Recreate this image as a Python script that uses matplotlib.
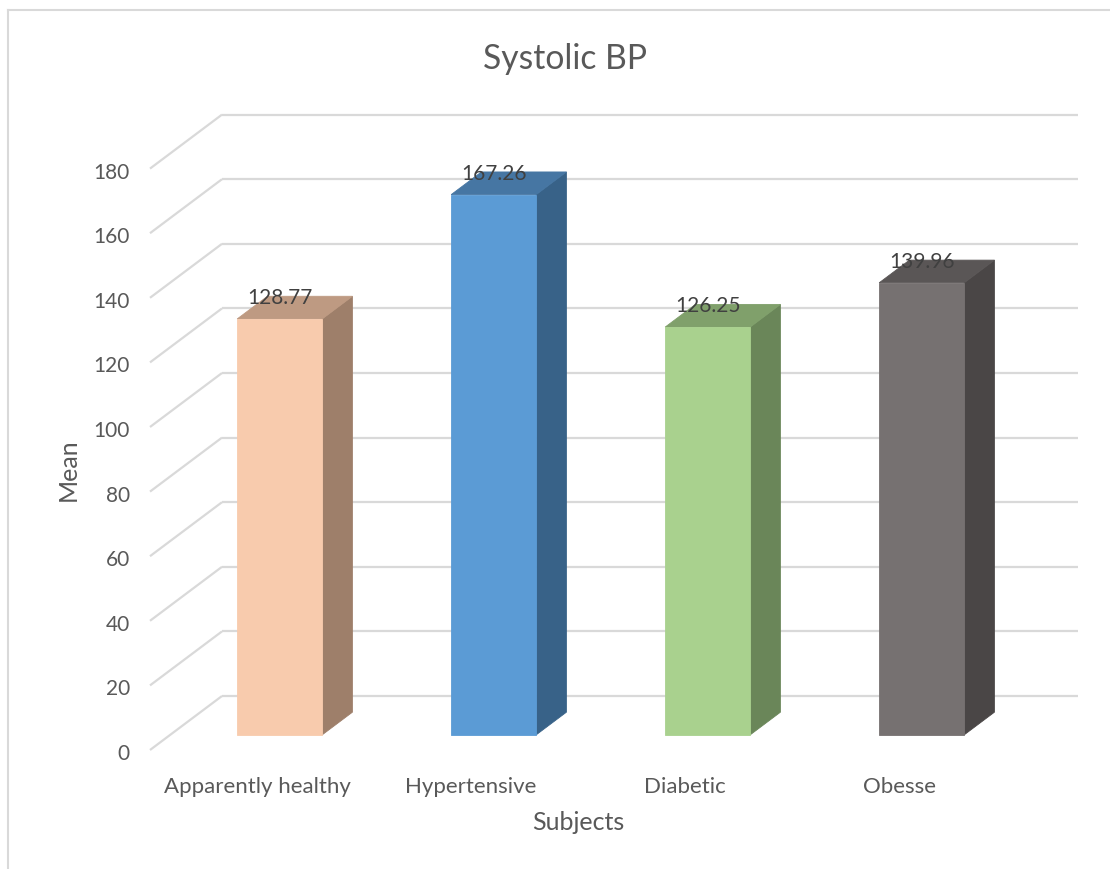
import matplotlib
matplotlib.use("Agg")
import matplotlib.pyplot as plt
from matplotlib.patches import Polygon
from matplotlib.lines import Line2D

# ---- data ----
categories = ["Apparently healthy", "Hypertensive", "Diabetic", "Obesse"]
means = [128.77, 167.26, 126.25, 139.96]
y_ticks = [0, 20, 40, 60, 80, 100, 120, 140, 160, 180]

front_colors = ["#F8CBAD", "#5B9BD5", "#A9D18E", "#767171"]
side_colors = ["#9E7F6A", "#386288", "#6A8659", "#4A4646"]
top_colors = ["#BE9A82", "#4676A3", "#80A06B", "#5A5656"]

# ---- layout (pixels) ----
W, H = 1110, 869
X0 = 150          # front-left corner of the floor
CAT_W = 214       # width of one category slot
Y0 = 750          # value zero on the front plane
PPU = 3.23        # pixels per value unit
DEPTH_DX, DEPTH_DY = 72, 54
BAR_W = 85 / CAT_W
D_FRONT, D_BACK = 0.28, 0.70

DX = DEPTH_DX / CAT_W
DY = DEPTH_DY / PPU


def proj(x, v, d):
    """Oblique projection of (category x, value v, depth d in 0..1)."""
    return (x + d * DX, v + d * DY)


def px_x(p):
    return p / CAT_W


def px_y(p):
    return p / PPU


TEXT = "#595959"
GRID = "#D9D9D9"
FONT = "Lato"

fig = plt.figure(figsize=(W / 100, H / 100), dpi=100)
ax = fig.add_axes([0, 0, 1, 1])
ax.set_xlim(-X0 / CAT_W, (W - X0) / CAT_W)
ax.set_ylim((Y0 - H) / PPU, Y0 / PPU)
ax.axis("off")

# chart-area border (top and left edges)
fig.add_artist(Line2D([8 / W, 1], [1 - 10 / H, 1 - 10 / H], color=GRID, lw=1.5))
fig.add_artist(Line2D([8 / W, 8 / W], [1 - 10 / H, 0], color=GRID, lw=1.5))

n = len(categories)

# gridlines on the back wall and the side wall
for t in y_ticks:
    a = proj(0, t, 1)
    b = proj(n, t, 1)
    ax.plot([a[0], b[0]], [a[1], b[1]], color=GRID, lw=1.6, zorder=1,
            solid_capstyle="butt")
    f = proj(0, t, 0)
    ax.plot([f[0], a[0]], [f[1], a[1]], color=GRID, lw=1.6, zorder=1,
            solid_capstyle="butt")
    ax.text(f[0] - px_x(20), f[1] - px_y(4), str(t), ha="right", va="center",
            fontsize=15, color=TEXT, family=FONT)

# 3D columns
for i, (v, fc, sc, tc) in enumerate(zip(means, front_colors, side_colors, top_colors)):
    cx = i + 0.5 + px_x(2.5)
    x0 = cx - BAR_W / 2
    x1 = cx + BAR_W / 2
    front = [proj(x0, 0, D_FRONT), proj(x1, 0, D_FRONT),
             proj(x1, v, D_FRONT), proj(x0, v, D_FRONT)]
    side = [proj(x1, 0, D_FRONT), proj(x1, 0, D_BACK),
            proj(x1, v, D_BACK), proj(x1, v, D_FRONT)]
    top = [proj(x0, v, D_FRONT), proj(x1, v, D_FRONT),
           proj(x1, v, D_BACK), proj(x0, v, D_BACK)]
    ax.add_patch(Polygon(side, closed=True, facecolor=sc, edgecolor=sc,
                         lw=0.6, zorder=3))
    ax.add_patch(Polygon(top, closed=True, facecolor=tc, edgecolor=tc,
                         lw=0.6, zorder=3))
    ax.add_patch(Polygon(front, closed=True, facecolor=fc, edgecolor=fc,
                         lw=0.6, zorder=4))
    lx = proj(cx, v, D_FRONT)[0]
    ly = proj(cx, v, D_BACK)[1] - px_y(2)
    ax.text(lx, ly, f"{v:.2f}", ha="center", va="center", fontsize=15,
            color="#404040", family=FONT, zorder=6)

# category labels on the front plane
for i, c in enumerate(categories):
    ax.text(i + 0.5, -px_y(37), c, ha="center", va="center", fontsize=16,
            color=TEXT, family=FONT)

# axis titles and chart title
ax.text(n / 2, -px_y(73), "Subjects", ha="center", va="center",
        fontsize=18, color=TEXT, family=FONT)
ax.text(-px_x(X0 - 68), px_y(Y0 - 470), "Mean", ha="center", va="center",
        rotation=90, fontsize=18, color=TEXT, family=FONT)
fig.text(565 / W, 1 - 59 / H, "Systolic BP", ha="center", va="center",
         fontsize=24.2, color=TEXT, family=FONT)

fig.savefig("out.png", dpi=100, facecolor="white")
